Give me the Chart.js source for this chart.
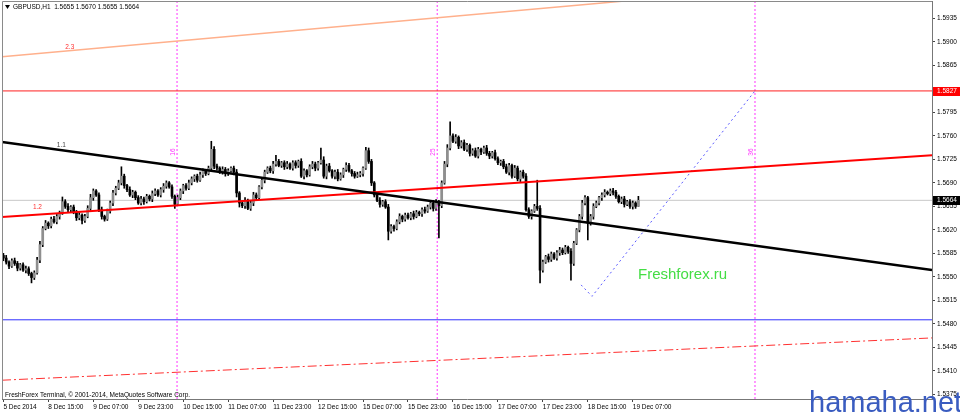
<!DOCTYPE html>
<html>
<head>
<meta charset="utf-8">
<script src="https://cdn.jsdelivr.net/npm/chart.js@4.4.1/dist/chart.umd.min.js"></script>
<style>
  html, body { margin: 0; padding: 0; background: #fff; }
  #wrap { width: 960px; height: 413px; position: relative; }
</style>
</head>
<body>
<div id="wrap"><canvas id="chart"></canvas></div>
<script>
// GBPUSD H1, 5 Dec 2014 23:00 .. 19 Dec 2014 09:00 (one value per hourly bar)
const symbolTitle = "GBPUSD,H1  1.5655 1.5670 1.5655 1.5664";
const firstOpen = 1.5582;
const closes = [
  1.5578,1.5572,1.5566,1.5574,1.5570,1.5563,1.5568,1.5560,1.5562,1.5555,
  1.5549,1.5556,1.5575,1.5598,1.5622,1.5630,1.5626,1.5636,1.5632,1.5640,
  1.5645,1.5662,1.5655,1.5650,1.5654,1.5646,1.5638,1.5642,1.5634,1.5640,
  1.5652,1.5668,1.5678,1.5672,1.5650,1.5640,1.5636,1.5648,1.5660,1.5675,
  1.5682,1.5690,1.5700,1.5686,1.5680,1.5672,1.5676,1.5668,1.5660,1.5666,
  1.5662,1.5670,1.5666,1.5674,1.5678,1.5672,1.5680,1.5685,1.5690,1.5684,
  1.5670,1.5658,1.5668,1.5678,1.5686,1.5682,1.5690,1.5696,1.5700,1.5694,
  1.5702,1.5708,1.5704,1.5712,1.5740,1.5715,1.5712,1.5706,1.5710,1.5704,
  1.5708,1.5712,1.5706,1.5675,1.5660,1.5656,1.5664,1.5652,1.5660,1.5672,
  1.5668,1.5684,1.5694,1.5706,1.5712,1.5708,1.5718,1.5722,1.5716,1.5720,
  1.5714,1.5718,1.5712,1.5720,1.5716,1.5722,1.5700,1.5708,1.5702,1.5714,
  1.5718,1.5712,1.5720,1.5724,1.5700,1.5715,1.5708,1.5700,1.5706,1.5696,
  1.5702,1.5710,1.5716,1.5708,1.5704,1.5700,1.5702,1.5704,1.5712,1.5738,
  1.5722,1.5690,1.5672,1.5664,1.5658,1.5662,1.5654,1.5618,1.5625,1.5622,
  1.5632,1.5640,1.5636,1.5642,1.5638,1.5644,1.5640,1.5646,1.5644,1.5650,
  1.5648,1.5654,1.5660,1.5652,1.5662,1.5656,1.5690,1.5718,1.5742,1.5760,
  1.5752,1.5758,1.5745,1.5750,1.5740,1.5746,1.5734,1.5738,1.5730,1.5740,
  1.5736,1.5742,1.5734,1.5730,1.5735,1.5726,1.5720,1.5722,1.5714,1.5706,
  1.5716,1.5700,1.5712,1.5696,1.5706,1.5700,1.5650,1.5640,1.5648,1.5655,
  1.5652,1.5560,1.5572,1.5580,1.5576,1.5584,1.5578,1.5586,1.5590,1.5586,
  1.5594,1.5588,1.5570,1.5600,1.5620,1.5640,1.5660,1.5668,1.5630,1.5640,
  1.5655,1.5660,1.5668,1.5672,1.5676,1.5674,1.5678,1.5676,1.5670,1.5662,
  1.5666,1.5658,1.5662,1.5655,1.5660,1.5655,1.5664
];
// wick lengths in pips above the body top / below the body bottom
const upperWick = [
  3,4,2,3,4,3,2,3,4,3,2,3,4,5,3,4,2,3,4,3,
  3,7,3,4,2,3,3,4,2,3,4,5,3,2,3,4,2,3,3,4,
  3,4,14,3,2,4,3,2,3,4,3,3,2,4,3,2,3,4,3,2,
  3,2,4,3,2,3,4,3,2,3,4,3,2,3,12,4,3,2,4,3,
  3,2,3,4,2,3,4,2,3,4,3,2,4,3,2,3,4,9,3,2,
  3,4,2,3,3,2,4,3,2,3,4,3,2,18,5,3,4,2,3,4,
  3,2,4,3,2,3,4,3,2,5,4,3,2,3,4,2,3,4,3,2,
  3,4,2,3,3,2,4,3,2,3,4,3,2,4,3,2,3,4,5,21,
  3,4,2,3,4,3,2,3,4,3,2,3,4,3,2,4,3,2,3,4,
  3,2,4,3,2,3,4,3,2,3,39,4,3,2,4,3,2,3,4,3,
  3,2,4,3,2,3,4,3,2,3,4,3,2,3,4,2,3,4,3,2,
  3,4,2,3,3,2,6
];
const lowerWick = [
  4,3,4,2,3,4,3,2,4,3,8,3,2,4,3,2,4,3,2,3,
  4,2,3,4,3,2,4,3,5,3,2,3,4,2,3,4,3,2,3,4,
  3,2,3,4,3,2,4,3,2,3,4,2,3,4,3,2,3,4,3,2,
  3,6,2,3,4,3,2,3,4,3,2,4,3,2,3,4,3,2,3,4,
  3,2,4,6,6,3,4,2,3,4,3,2,3,4,2,3,4,3,2,3,
  4,3,2,3,4,3,2,4,3,2,3,4,3,2,3,4,2,3,4,3,
  2,4,3,2,4,3,2,3,4,2,3,4,3,2,4,3,2,13,3,4,
  2,3,4,3,2,3,4,2,3,4,3,2,3,4,3,48,3,2,4,3,
  2,3,4,3,2,3,4,3,2,3,4,2,3,4,3,2,3,4,3,2,
  4,3,2,3,4,3,2,3,4,2,3,19,3,2,4,3,2,3,4,3,
  2,3,25,3,2,3,4,3,25,3,4,2,3,4,3,2,3,4,3,2,
  3,4,2,3,4,3,0
];

const timeLabels = ["5 Dec 2014", "8 Dec 15:00", "9 Dec 07:00", "9 Dec 23:00", "10 Dec 15:00",
  "11 Dec 07:00", "11 Dec 23:00", "12 Dec 15:00", "15 Dec 07:00", "15 Dec 23:00",
  "16 Dec 15:00", "17 Dec 07:00", "17 Dec 23:00", "18 Dec 15:00", "19 Dec 07:00"];
const timeLabelStep = 16;
const priceTicks = [1.5375, 1.5410, 1.5445, 1.5480, 1.5515, 1.5550, 1.5585, 1.5620,
  1.5655, 1.5690, 1.5725, 1.5760, 1.5795, 1.5865, 1.5900, 1.5935];

// drawn objects: [bar index, price]
const trend11 = [[-0.5, 1.5751], [330.5, 1.5560]];
const trend12 = [[-0.5, 1.5639], [330.5, 1.5731]];
const trend23 = [[-0.5, 1.5878], [330.5, 1.6002]];
const channelLow = [[-0.5, 1.5396], [330.5, 1.5459]];
const projection = [[205.6, 1.5538], [209.5, 1.5521], [267.5, 1.5827]];
const levelRed = 1.5827;
const levelBlue = 1.5486;
const lastPrice = 1.5664;
const timeLines = [61.8, 154.4, 267.5];
const timeLineNames = ["16", "25", "36"];
const timeLineNameLevel = 1.5736;
const lineNames = [["1.1", 19, 1.5746], ["1.2", 10.5, 1.5654], ["2.3", 22, 1.5892]];

const xMin = -0.5, xMax = 330.5, yMin = 1.5368, yMax = 1.5961;

// build candles
const bodies = [], wicks = [], bodyColors = [];
for (let i = 0; i < closes.length; i++) {
  let o = i == 0 ? firstOpen : closes[i - 1];
  let c = closes[i];
  let hi = Math.max(o, c) + upperWick[i] / 10000;
  let lo = Math.min(o, c) - lowerWick[i] / 10000;
  bodies.push({x: i, y: [o, c]});
  wicks.push({x: i, y: [lo, hi]});
  bodyColors.push(c >= o ? "#8f8f8f" : "#000000");
}

const pts = arr => arr.map(p => ({x: p[0], y: p[1]}));
const hline = v => [{x: xMin, y: v}, {x: xMax, y: v}];

function lineSet(data, color, width, dash, order) {
  return {
    type: "line", data: data, borderColor: color, borderWidth: width,
    borderDash: dash || [], pointRadius: 0, tension: 0, fill: false, order: order
  };
}

const datasets = [
  lineSet(hline(lastPrice), "#c8c8c8", 1, null, 5),
  {type: "bar", data: wicks, backgroundColor: "#000", barThickness: 1, grouped: false, order: 4},
  {type: "bar", data: bodies, backgroundColor: bodyColors, barThickness: 2, minBarLength: 1, grouped: false, order: 3},
  lineSet(hline(levelRed), "#ff2020", 1, null, 1),
  lineSet(hline(levelBlue), "#3030ff", 1, null, 1),
  lineSet(pts(trend11), "#000000", 2.5, null, 0),
  lineSet(pts(trend12), "#ff0000", 2, null, 0),
  lineSet(pts(trend23), "#ffb08c", 1.5, null, 0),
  lineSet(pts(channelLow), "#ff3030", 1, [9, 3, 2, 3], 0),
  lineSet(pts(projection), "#5a5aff", 1, [2, 3], 0),
];
timeLines.forEach(t => {
  datasets.push(lineSet([{x: t, y: yMin}, {x: t, y: yMax}], "#ff33ff", 1, [2, 2], 2));
});

const FONT = "'Liberation Sans', Arial, sans-serif";

const overlay = {
  id: "overlay",
  afterDatasetsDraw(chart) {
    const ctx = chart.ctx, xs = chart.scales.x, ys = chart.scales.y, a = chart.chartArea;
    ctx.save();
    // frame left/top
    ctx.strokeStyle = "#8a8a8a"; ctx.lineWidth = 1;
    ctx.beginPath();
    ctx.moveTo(a.left + 0.5, a.bottom); ctx.lineTo(a.left + 0.5, a.top + 0.5); ctx.lineTo(a.right, a.top + 0.5);
    ctx.stroke();

    ctx.font = "6.5px " + FONT;
    ctx.textBaseline = "middle";
    lineNames.forEach(n => {
      ctx.fillStyle = n[0] == "1.1" ? "#444" : "#ff3030";
      ctx.textAlign = "left";
      ctx.fillText(n[0], xs.getPixelForValue(n[1]), ys.getPixelForValue(n[2]));
    });
    timeLines.forEach((t, k) => {
      ctx.save();
      ctx.translate(xs.getPixelForValue(t) - 4, ys.getPixelForValue(timeLineNameLevel));
      ctx.rotate(-Math.PI / 2);
      ctx.fillStyle = "#ff33ff";
      ctx.textAlign = "center";
      ctx.fillText(timeLineNames[k], 0, 0);
      ctx.restore();
    });

    // header
    ctx.fillStyle = "#000";
    ctx.beginPath(); ctx.moveTo(5, 5); ctx.lineTo(10, 5); ctx.lineTo(7.5, 9); ctx.closePath(); ctx.fill();
    ctx.textAlign = "left";
    ctx.fillText(symbolTitle, 13, 7.5);
    // footer
    ctx.fillText("FreshForex Terminal, \u00a9 2001-2014, MetaQuotes Software Corp.", 5, 395);

    ctx.font = "15px " + FONT;
    ctx.fillStyle = "#44dd44";
    ctx.textBaseline = "alphabetic";
    ctx.fillText("Freshforex.ru", 638, 279);
    ctx.restore();
  },
  afterDraw(chart) {
    const ctx = chart.ctx, ys = chart.scales.y, a = chart.chartArea;
    ctx.save();
    ctx.font = "6.5px " + FONT;
    ctx.textBaseline = "middle";
    ctx.textAlign = "left";
    [[levelRed, "#ff0000"], [lastPrice, "#000000"]].forEach(b => {
      let y = Math.round(ys.getPixelForValue(b[0]));
      ctx.fillStyle = b[1];
      ctx.fillRect(a.right + 1, y - 4, 960 - a.right - 1, 9);
      ctx.fillStyle = "#fff";
      ctx.fillText(b[0].toFixed(4), a.right + 5, y + 0.5);
    });
    ctx.font = "29px " + FONT;
    ctx.fillStyle = "#3a5cc0";
    ctx.textBaseline = "alphabetic";
    ctx.fillText("hamaha.net", 809, 412);
    ctx.restore();
  }
};

new Chart(document.getElementById("chart"), {
  data: {datasets: datasets},
  options: {
    responsive: true,
    maintainAspectRatio: false,
    animation: false,
    events: [],
    layout: {padding: {left: 2, top: 1, right: 0, bottom: 0}},
    plugins: {legend: {display: false}, tooltip: {enabled: false}},
    scales: {
      x: {
        type: "linear", min: xMin, max: xMax, offset: false,
        afterBuildTicks: s => { s.ticks = timeLabels.map((t, k) => ({value: k * timeLabelStep})); },
        afterFit: s => { s.height = 14; s.paddingLeft = 0; s.paddingRight = 0; },
        ticks: {
          autoSkip: false, maxRotation: 0, align: "start", padding: 1,
          color: "#000", font: {family: FONT, size: 6.5},
          callback: (v, i) => timeLabels[i]
        },
        grid: {drawOnChartArea: false, tickLength: 3, color: "#444", offset: false},
        border: {color: "#777"}
      },
      y: {
        type: "linear", position: "right", min: yMin, max: yMax,
        afterBuildTicks: s => { s.ticks = priceTicks.map(v => ({value: v})); },
        afterFit: s => { s.width = 28; s.paddingTop = 0; s.paddingBottom = 0; },
        ticks: {
          padding: 2, color: "#000", font: {family: FONT, size: 6.5},
          callback: v => v.toFixed(4)
        },
        grid: {drawOnChartArea: false, tickLength: 3, color: "#444"},
        border: {color: "#777"}
      }
    }
  },
  plugins: [overlay]
});
</script>
</body>
</html>
